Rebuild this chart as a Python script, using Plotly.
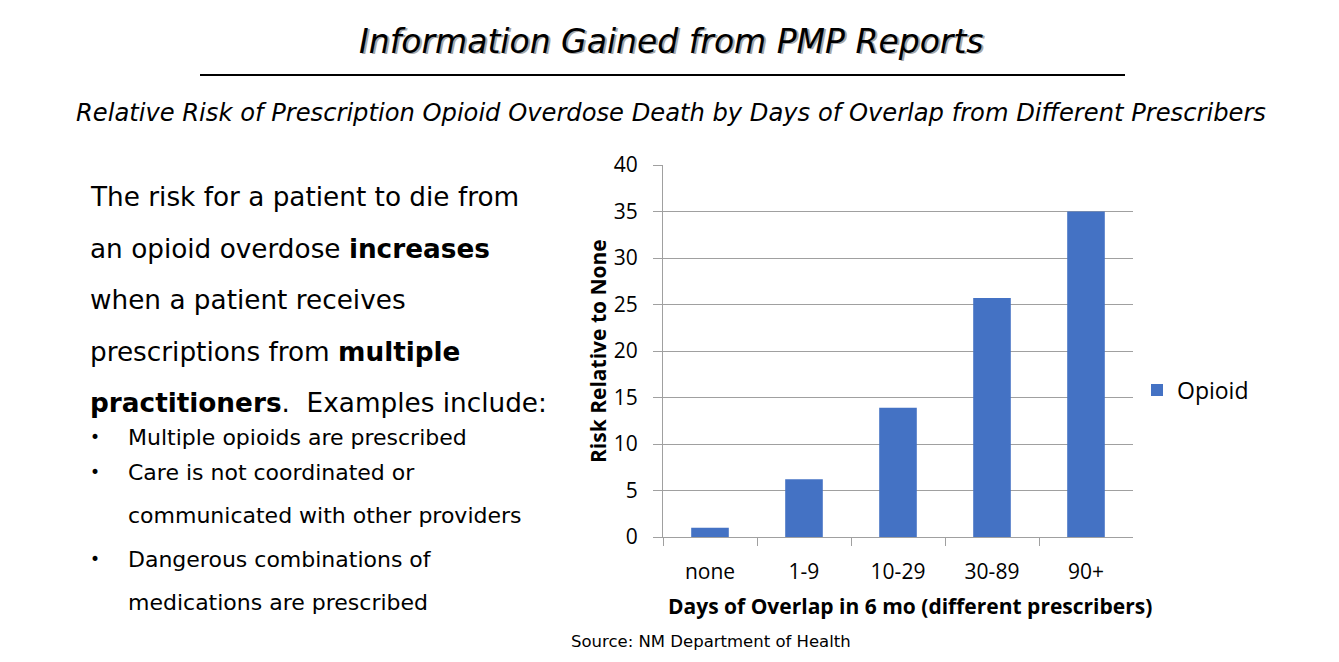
import plotly.graph_objects as go

VW, VH = 1339, 662
OFF = 8
W, H = VW - 2 * OFF, VH - 2 * OFF

categories = ["none", "1-9", "10-29", "30-89", "90+"]
opioid_values = [1.0, 6.2, 13.9, 25.7, 35.0]
y_ticks = [0, 5, 10, 15, 20, 25, 30, 35, 40]
series_name = "Opioid"

title_text = "Information Gained from PMP Reports"
subtitle_text = "Relative Risk of Prescription Opioid Overdose Death by Days of Overlap from Different Prescribers"
x_title = "Days of Overlap in 6 mo (different prescribers)"
y_title = "Risk Relative to None"
body_lines = [
    "The risk for a patient to die from",
    "an opioid overdose <b>increases</b>",
    "when a patient receives",
    "prescriptions from <b>multiple</b>",
    "<b>practitioners</b>.  Examples include:",
]
bullet_lines = [
    ("Multiple opioids are prescribed", True),
    ("Care is not coordinated or", True),
    ("communicated with other providers", False),
    ("Dangerous combinations of", True),
    ("medications are prescribed", False),
]
source_text = "Source: NM Department of Health"


def px(x):
    return (x - OFF) / W


def py(y):
    return 1 - (y - OFF) / H


BLUE = "#4472C4"
GRID = "#A0A0A0"
TEXTFONT = "DejaVu Sans"
CHARTFONT = "Open Sans"

fig = go.Figure()
fig.add_trace(go.Bar(
    x=categories, y=opioid_values, name=series_name,
    marker=dict(color=BLUE, line=dict(width=0)), width=0.4,
))

fig.update_layout(
    width=W, height=H,
    margin=dict(l=0, r=0, t=0, b=0, autoexpand=False),
    paper_bgcolor="white", plot_bgcolor="white",
    showlegend=True,
    legend=dict(x=px(1137), y=py(390), xanchor="left", yanchor="middle",
                font=dict(family=CHARTFONT, size=23, color="black"),
                itemwidth=30, bgcolor="rgba(0,0,0,0)"),
    xaxis=dict(
        domain=[px(663), px(1133)],
        automargin=False,
        showline=True, linecolor=GRID, linewidth=1,
        ticks="outside", tickson="boundaries", ticklen=8, tickcolor=GRID,
        ticklabelstandoff=16,
        showgrid=False,
        tickfont=dict(family=CHARTFONT, size=21, color="black"),
    ),
    yaxis=dict(
        domain=[py(537), py(165)],
        automargin=False,
        range=[0, 40], tickvals=y_ticks,
        showline=True, linecolor=GRID, linewidth=1,
        showgrid=True, gridcolor=GRID, gridwidth=1,
        ticks="outside", ticklen=9, tickcolor=GRID,
        ticklabelstandoff=11,
        zeroline=False,
        tickfont=dict(family=CHARTFONT, size=21, color="black"),
    ),
)

ann = []
ann.append(dict(x=px(673), y=py(43), text=f"<i>{title_text}</i>", showarrow=False,
                xref="paper", yref="paper", xanchor="center", yanchor="middle",
                font=dict(family=TEXTFONT, size=33, color="#A8A8A8")))
ann.append(dict(x=px(671), y=py(41), text=f"<i>{title_text}</i>", showarrow=False,
                xref="paper", yref="paper", xanchor="center", yanchor="middle",
                font=dict(family=TEXTFONT, size=33, color="black")))
ann.append(dict(x=px(671), y=py(113), text=f"<i>{subtitle_text}</i>", showarrow=False,
                xref="paper", yref="paper", xanchor="center", yanchor="middle",
                font=dict(family=TEXTFONT, size=24.2, color="black")))
body_y = [197, 249, 300, 352, 403]
for t, yy in zip(body_lines, body_y):
    ann.append(dict(x=px(88), y=py(yy), text=t, showarrow=False,
                    xref="paper", yref="paper", xanchor="left", yanchor="middle",
                    font=dict(family=TEXTFONT, size=26.3, color="black")))
bullet_y = [437, 472, 515, 559, 602]
for (t, has_bullet), yy in zip(bullet_lines, bullet_y):
    if has_bullet:
        ann.append(dict(x=px(88), y=py(yy), text="•", showarrow=False,
                        xref="paper", yref="paper", xanchor="left", yanchor="middle",
                        font=dict(family=TEXTFONT, size=17, color="black")))
    ann.append(dict(x=px(126), y=py(yy), text=t, showarrow=False,
                    xref="paper", yref="paper", xanchor="left", yanchor="middle",
                    font=dict(family=TEXTFONT, size=22, color="black")))
ann.append(dict(x=px(711), y=py(641), text=source_text, showarrow=False,
                xref="paper", yref="paper", xanchor="center", yanchor="middle",
                font=dict(family=TEXTFONT, size=16.5, color="black")))
# axis titles
ann.append(dict(x=px(910), y=py(606), text=f"<b>{x_title}</b>", showarrow=False,
                xref="paper", yref="paper", xanchor="center", yanchor="middle",
                font=dict(family=CHARTFONT, size=21, color="black")))
ann.append(dict(x=px(598), y=py(351), text=f"<b>{y_title}</b>", showarrow=False,
                textangle=-90,
                xref="paper", yref="paper", xanchor="center", yanchor="middle",
                font=dict(family=CHARTFONT, size=21, color="black")))
fig.update_layout(annotations=ann)

fig.add_shape(type="line", xref="paper", yref="paper",
              x0=px(200), x1=px(1125), y0=py(75), y1=py(75),
              line=dict(color="black", width=2))

fig.write_html("out.html")
